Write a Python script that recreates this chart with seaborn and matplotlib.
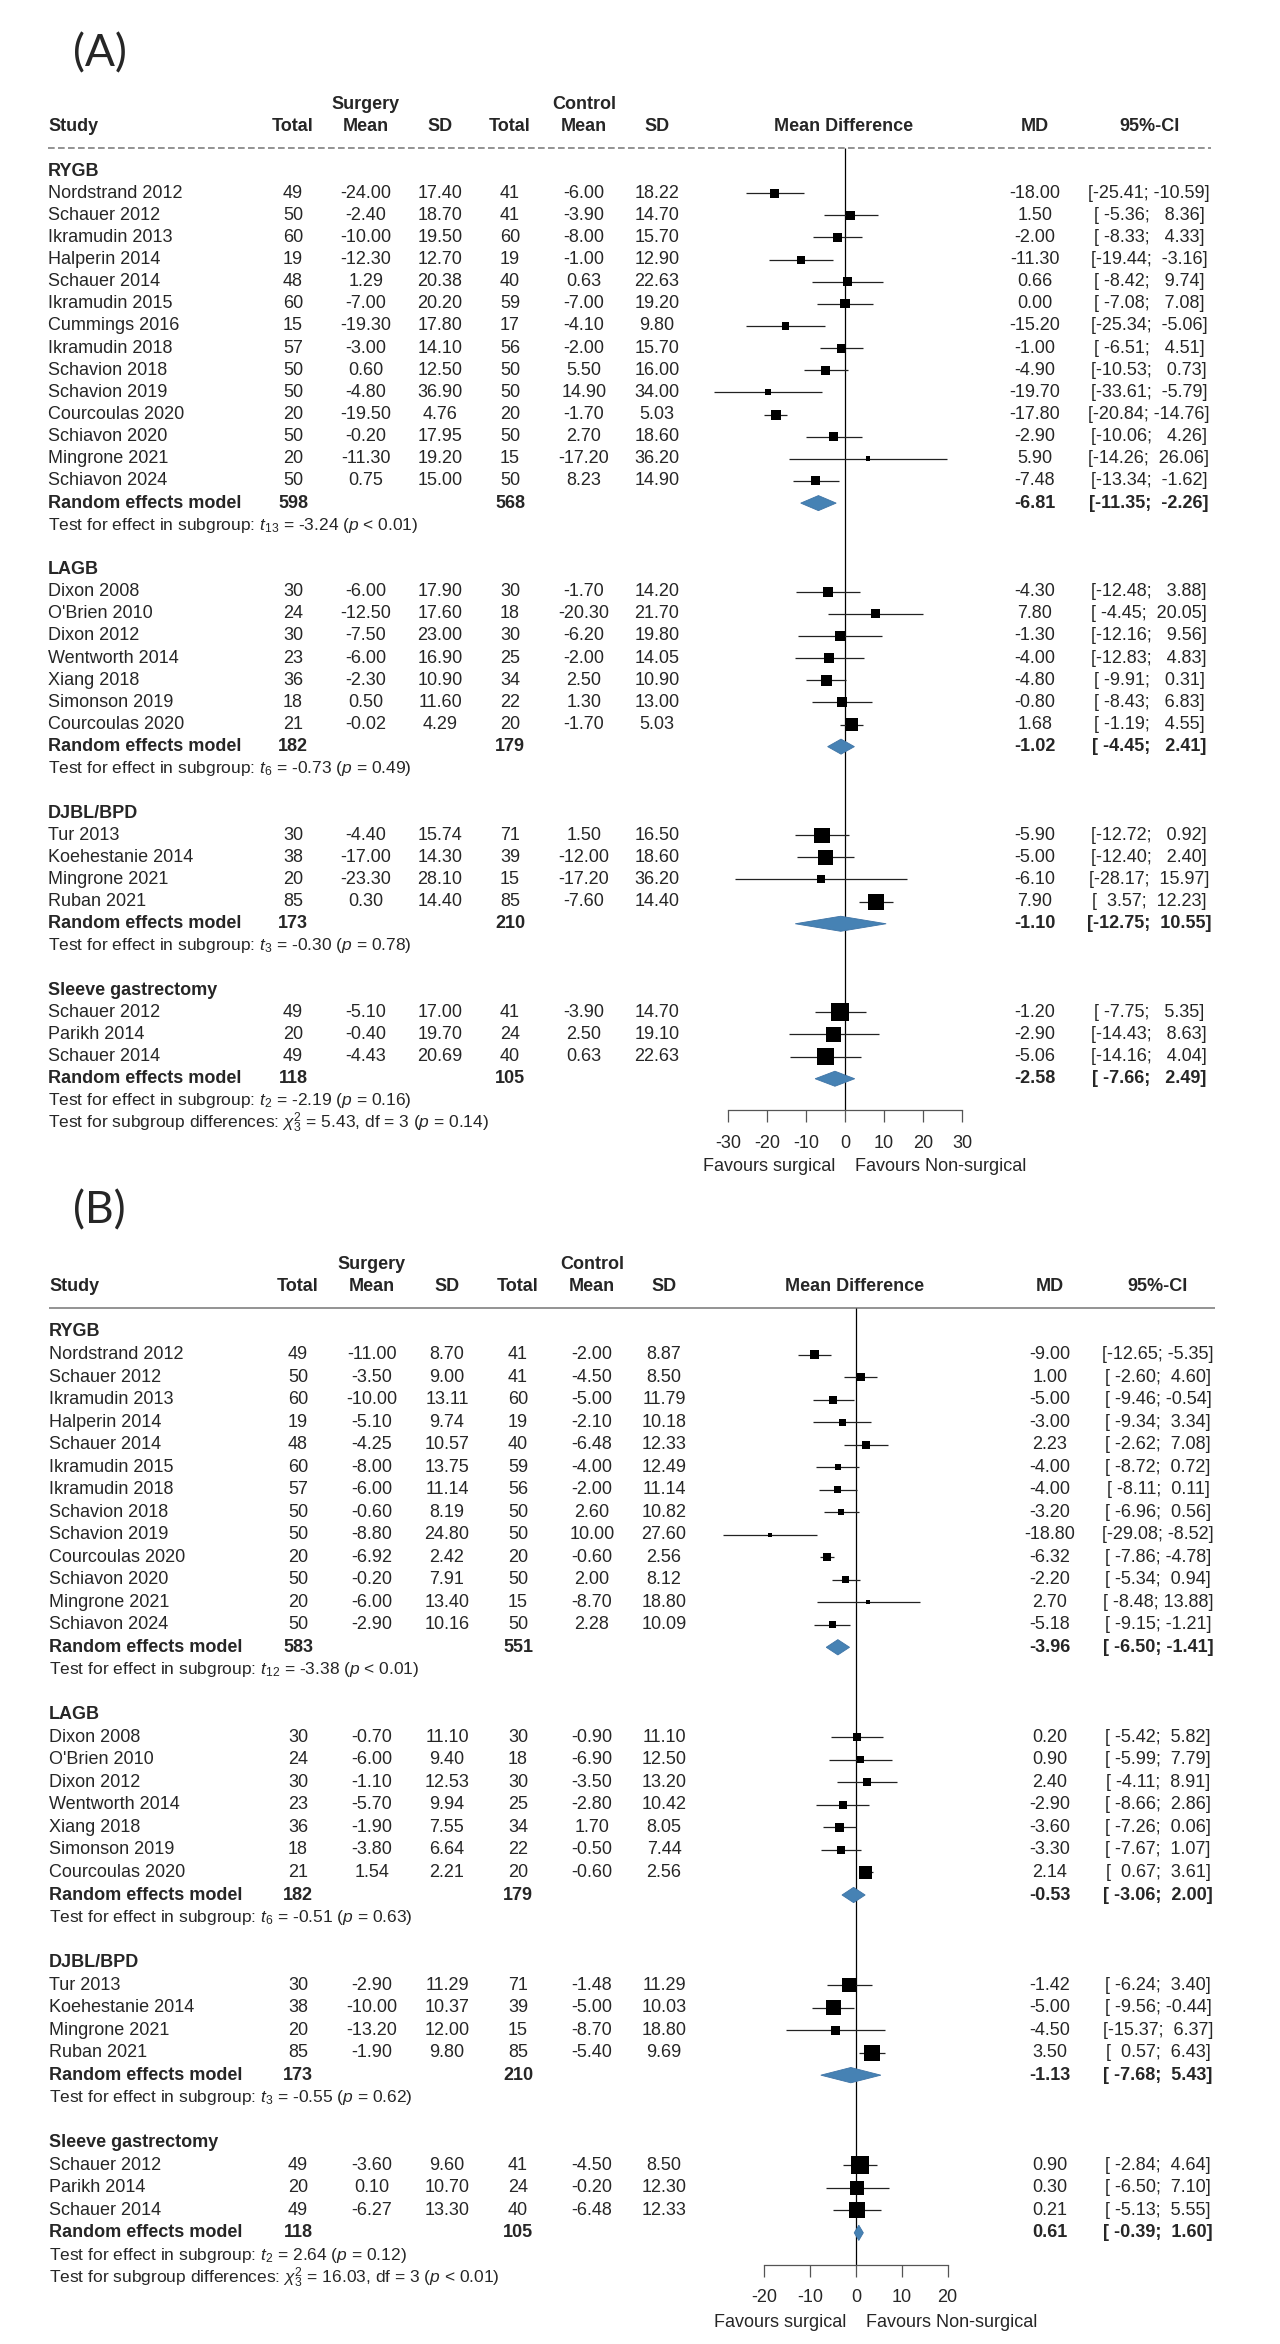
import matplotlib
matplotlib.use("Agg")
import pandas as pd
import matplotlib.pyplot as plt
import seaborn as sns

# ---------------- Panel A data ----------------
a_group = ["RYGB"] * 14 + ["LAGB"] * 7 + ["DJBL/BPD"] * 4 + ["Sleeve gastrectomy"] * 3
a_study = ["Nordstrand 2012", "Schauer 2012", "Ikramudin 2013", "Halperin 2014", "Schauer 2014",
           "Ikramudin 2015", "Cummings 2016", "Ikramudin 2018", "Schavion 2018", "Schavion 2019",
           "Courcoulas 2020", "Schiavon 2020", "Mingrone 2021", "Schiavon 2024",
           "Dixon 2008", "O'Brien 2010", "Dixon 2012", "Wentworth 2014", "Xiang 2018",
           "Simonson 2019", "Courcoulas 2020",
           "Tur 2013", "Koehestanie 2014", "Mingrone 2021", "Ruban 2021",
           "Schauer 2012", "Parikh 2014", "Schauer 2014"]
a_n1 = [49, 50, 60, 19, 48, 60, 15, 57, 50, 50, 20, 50, 20, 50,
        30, 24, 30, 23, 36, 18, 21,
        30, 38, 20, 85,
        49, 20, 49]
a_m1 = [-24.00, -2.40, -10.00, -12.30, 1.29, -7.00, -19.30, -3.00, 0.60, -4.80, -19.50, -0.20, -11.30, 0.75,
        -6.00, -12.50, -7.50, -6.00, -2.30, 0.50, -0.02,
        -4.40, -17.00, -23.30, 0.30,
        -5.10, -0.40, -4.43]
a_sd1 = [17.40, 18.70, 19.50, 12.70, 20.38, 20.20, 17.80, 14.10, 12.50, 36.90, 4.76, 17.95, 19.20, 15.00,
         17.90, 17.60, 23.00, 16.90, 10.90, 11.60, 4.29,
         15.74, 14.30, 28.10, 14.40,
         17.00, 19.70, 20.69]
a_n2 = [41, 41, 60, 19, 40, 59, 17, 56, 50, 50, 20, 50, 15, 50,
        30, 18, 30, 25, 34, 22, 20,
        71, 39, 15, 85,
        41, 24, 40]
a_m2 = [-6.00, -3.90, -8.00, -1.00, 0.63, -7.00, -4.10, -2.00, 5.50, 14.90, -1.70, 2.70, -17.20, 8.23,
        -1.70, -20.30, -6.20, -2.00, 2.50, 1.30, -1.70,
        1.50, -12.00, -17.20, -7.60,
        -3.90, 2.50, 0.63]
a_sd2 = [18.22, 14.70, 15.70, 12.90, 22.63, 19.20, 9.80, 15.70, 16.00, 34.00, 5.03, 18.60, 36.20, 14.90,
         14.20, 21.70, 19.80, 14.05, 10.90, 13.00, 5.03,
         16.50, 18.60, 36.20, 14.40,
         14.70, 19.10, 22.63]
a_md = [-18.00, 1.50, -2.00, -11.30, 0.66, 0.00, -15.20, -1.00, -4.90, -19.70, -17.80, -2.90, 5.90, -7.48,
        -4.30, 7.80, -1.30, -4.00, -4.80, -0.80, 1.68,
        -5.90, -5.00, -6.10, 7.90,
        -1.20, -2.90, -5.06]
a_lo = [-25.41, -5.36, -8.33, -19.44, -8.42, -7.08, -25.34, -6.51, -10.53, -33.61, -20.84, -10.06, -14.26, -13.34,
        -12.48, -4.45, -12.16, -12.83, -9.91, -8.43, -1.19,
        -12.72, -12.40, -28.17, 3.57,
        -7.75, -14.43, -14.16]
a_hi = [-10.59, 8.36, 4.33, -3.16, 9.74, 7.08, -5.06, 4.51, 0.73, -5.79, -14.76, 4.26, 26.06, -1.62,
        3.88, 20.05, 9.56, 4.83, 0.31, 6.83, 4.55,
        0.92, 2.40, 15.97, 12.23,
        5.35, 8.63, 4.04]
# relative weights (%), estimated from the square sizes
a_w = [2.4, 2.4, 2.4, 1.9, 2.4, 2.4, 1.5, 2.4, 2.4, 1.1, 3.0, 2.4, 0.7, 2.4,
       3.0, 2.4, 3.0, 3.0, 3.6, 3.0, 4.3,
       6.7, 6.7, 1.9, 7.6,
       9.6, 6.7, 8.6]

a_pool_group = ["RYGB", "LAGB", "DJBL/BPD", "Sleeve gastrectomy"]
a_pool_n1 = [598, 182, 173, 118]
a_pool_n2 = [568, 179, 210, 105]
a_pool_md = [-6.81, -1.02, -1.10, -2.58]
a_pool_lo = [-11.35, -4.45, -12.75, -7.66]
a_pool_hi = [-2.26, 2.41, 10.55, 2.49]
a_pool_test = [r"$t_{13}$ = -3.24 ($p$ < 0.01)", r"$t_{6}$ = -0.73 ($p$ = 0.49)",
               r"$t_{3}$ = -0.30 ($p$ = 0.78)", r"$t_{2}$ = -2.19 ($p$ = 0.16)"]
a_diff = r"Test for subgroup differences: $\chi^{2}_{3}$ = 5.43, df = 3 ($p$ = 0.14)"
a_ticks = [-30, -20, -10, 0, 10, 20, 30]

# ---------------- Panel B data ----------------
b_group = ["RYGB"] * 13 + ["LAGB"] * 7 + ["DJBL/BPD"] * 4 + ["Sleeve gastrectomy"] * 3
b_study = ["Nordstrand 2012", "Schauer 2012", "Ikramudin 2013", "Halperin 2014", "Schauer 2014",
           "Ikramudin 2015", "Ikramudin 2018", "Schavion 2018", "Schavion 2019", "Courcoulas 2020",
           "Schiavon 2020", "Mingrone 2021", "Schiavon 2024",
           "Dixon 2008", "O'Brien 2010", "Dixon 2012", "Wentworth 2014", "Xiang 2018",
           "Simonson 2019", "Courcoulas 2020",
           "Tur 2013", "Koehestanie 2014", "Mingrone 2021", "Ruban 2021",
           "Schauer 2012", "Parikh 2014", "Schauer 2014"]
b_n1 = [49, 50, 60, 19, 48, 60, 57, 50, 50, 20, 50, 20, 50,
        30, 24, 30, 23, 36, 18, 21,
        30, 38, 20, 85,
        49, 20, 49]
b_m1 = [-11.00, -3.50, -10.00, -5.10, -4.25, -8.00, -6.00, -0.60, -8.80, -6.92, -0.20, -6.00, -2.90,
        -0.70, -6.00, -1.10, -5.70, -1.90, -3.80, 1.54,
        -2.90, -10.00, -13.20, -1.90,
        -3.60, 0.10, -6.27]
b_sd1 = [8.70, 9.00, 13.11, 9.74, 10.57, 13.75, 11.14, 8.19, 24.80, 2.42, 7.91, 13.40, 10.16,
         11.10, 9.40, 12.53, 9.94, 7.55, 6.64, 2.21,
         11.29, 10.37, 12.00, 9.80,
         9.60, 10.70, 13.30]
b_n2 = [41, 41, 60, 19, 40, 59, 56, 50, 50, 20, 50, 15, 50,
        30, 18, 30, 25, 34, 22, 20,
        71, 39, 15, 85,
        41, 24, 40]
b_m2 = [-2.00, -4.50, -5.00, -2.10, -6.48, -4.00, -2.00, 2.60, 10.00, -0.60, 2.00, -8.70, 2.28,
        -0.90, -6.90, -3.50, -2.80, 1.70, -0.50, -0.60,
        -1.48, -5.00, -8.70, -5.40,
        -4.50, -0.20, -6.48]
b_sd2 = [8.87, 8.50, 11.79, 10.18, 12.33, 12.49, 11.14, 10.82, 27.60, 2.56, 8.12, 18.80, 10.09,
         11.10, 12.50, 13.20, 10.42, 8.05, 7.44, 2.56,
         11.29, 10.03, 18.80, 9.69,
         8.50, 12.30, 12.33]
b_md = [-9.00, 1.00, -5.00, -3.00, 2.23, -4.00, -4.00, -3.20, -18.80, -6.32, -2.20, 2.70, -5.18,
        0.20, 0.90, 2.40, -2.90, -3.60, -3.30, 2.14,
        -1.42, -5.00, -4.50, 3.50,
        0.90, 0.30, 0.21]
b_lo = [-12.65, -2.60, -9.46, -9.34, -2.62, -8.72, -8.11, -6.96, -29.08, -7.86, -5.34, -8.48, -9.15,
        -5.42, -5.99, -4.11, -8.66, -7.26, -7.67, 0.67,
        -6.24, -9.56, -15.37, 0.57,
        -2.84, -6.50, -5.13]
b_hi = [-5.35, 4.60, -0.54, 3.34, 7.08, 0.72, 0.11, 0.56, -8.52, -4.78, 0.94, 13.88, -1.21,
        5.82, 7.79, 8.91, 2.86, 0.06, 1.07, 3.61,
        3.40, -0.44, 6.37, 6.43,
        4.64, 7.10, 5.55]
b_w = [3.0, 2.3, 2.3, 1.8, 2.3, 1.3, 1.8, 1.3, 0.6, 2.3, 1.8, 0.6, 1.8,
       2.3, 1.8, 2.3, 2.3, 3.0, 2.3, 6.2,
       7.2, 8.3, 3.0, 9.4,
       11.9, 7.2, 9.4]

b_pool_group = ["RYGB", "LAGB", "DJBL/BPD", "Sleeve gastrectomy"]
b_pool_n1 = [583, 182, 173, 118]
b_pool_n2 = [551, 179, 210, 105]
b_pool_md = [-3.96, -0.53, -1.13, 0.61]
b_pool_lo = [-6.50, -3.06, -7.68, -0.39]
b_pool_hi = [-1.41, 2.00, 5.43, 1.60]
b_pool_test = [r"$t_{12}$ = -3.38 ($p$ < 0.01)", r"$t_{6}$ = -0.51 ($p$ = 0.63)",
               r"$t_{3}$ = -0.55 ($p$ = 0.62)", r"$t_{2}$ = 2.64 ($p$ = 0.12)"]
b_diff = r"Test for subgroup differences: $\chi^{2}_{3}$ = 16.03, df = 3 ($p$ < 0.01)"
b_ticks = [-20, -10, 0, 10, 20]

sns.set_theme(style="white")
plt.rcParams["font.family"] = ["Liberation Sans", "DejaVu Sans"]
plt.rcParams["mathtext.fontset"] = "custom"
plt.rcParams["mathtext.rm"] = "Liberation Sans"
plt.rcParams["mathtext.it"] = "Liberation Sans:italic"
plt.rcParams["mathtext.bf"] = "Liberation Sans:bold"

W, H = 1280, 2344
FS = 13
DIAMOND = "#4682B4"

fig = plt.figure(figsize=(W / 100, H / 100), dpi=100)


def f2(v):
    return f"{v:.2f}"


def draw_panel(label, studies, pooled, test_txt, diff_txt, ticks, lay):
    df = pd.DataFrame(studies)
    pool = pd.DataFrame(pooled)
    y0, step = lay["y0"], lay["step"]

    def row(px):
        return (px - y0) / step

    # row index of each line of the table
    r = 0
    study_rows, pool_rows, head_rows, test_rows = [], [], [], []
    for g in pool["group"]:
        head_rows.append(r)
        k = (df["group"] == g).sum()
        study_rows += list(range(r + 1, r + 1 + k))
        pool_rows.append(r + k + 1)
        test_rows.append(r + k + 2)
        r = r + k + 4
    df["row"] = study_rows
    pool["row"] = pool_rows
    diff_row = test_rows[-1] + 1
    axis_row = test_rows[-1] + 0.42
    line_row = -1.05

    bottom = 1 - lay["bot"] / H
    height = (lay["bot"] - lay["top"]) / H
    ylim = (row(lay["bot"]), row(lay["top"]))

    # text table axes, x in pixels
    ta = fig.add_axes([0, bottom, 1, height])
    ta.set_xlim(0, W)
    ta.set_ylim(*ylim)
    ta.axis("off")

    c = lay["cols"]
    ta.text(lay["lab_x"], row(lay["lab_y"]), label, fontsize=32, family="Lato",
            ha="left", va="center")

    bold = dict(fontsize=FS, fontweight="bold", va="center")
    ta.text(c["m1"], -3, "Surgery", ha="center", **bold)
    ta.text(c["m2"], -3, "Control", ha="center", **bold)
    ta.text(c["study"], -2, "Study", ha="left", **bold)
    for key, name in [("n1", "Total"), ("m1", "Mean"), ("sd1", "SD"), ("n2", "Total"),
                      ("m2", "Mean"), ("sd2", "SD"), ("mdh", "Mean Difference"),
                      ("md", "MD"), ("ci", "95%-CI")]:
        ta.text(c[key], -2, name, ha="center", **bold)
    ta.hlines(line_row, c["study"], c["end"], colors="#808080", lw=1.2,
              linestyles=lay["ls"])

    lo_w = max(len(f2(v)) for v in list(df["lo"]) + list(pool["lo"]))
    hi_w = max(len(f2(v)) for v in list(df["hi"]) + list(pool["hi"]))

    def ci(lo, hi):
        return f"[{f2(lo):>{lo_w}}; {f2(hi):>{hi_w}}]"

    reg = dict(fontsize=FS, va="center", ha="center")
    for g, hr in zip(pool["group"], head_rows):
        ta.text(c["study"], hr, g, ha="left", **bold)
    for _, s in df.iterrows():
        y = s["row"]
        ta.text(c["study"], y, s["study"], fontsize=FS, va="center", ha="left")
        ta.text(c["n1"], y, str(s["n1"]), **reg)
        ta.text(c["m1"], y, f2(s["m1"]), **reg)
        ta.text(c["sd1"], y, f2(s["sd1"]), **reg)
        ta.text(c["n2"], y, str(s["n2"]), **reg)
        ta.text(c["m2"], y, f2(s["m2"]), **reg)
        ta.text(c["sd2"], y, f2(s["sd2"]), **reg)
        ta.text(c["md"], y, f2(s["md"]), **reg)
        ta.text(c["ci"], y, ci(s["lo"], s["hi"]), **reg)
    for (_, p), tr, tt in zip(pool.iterrows(), test_rows, test_txt):
        y = p["row"]
        ta.text(c["study"], y, "Random effects model", ha="left", **bold)
        ta.text(c["n1"], y, str(p["n1"]), ha="center", **bold)
        ta.text(c["n2"], y, str(p["n2"]), ha="center", **bold)
        ta.text(c["md"], y, f2(p["md"]), ha="center", **bold)
        ta.text(c["ci"], y, ci(p["lo"], p["hi"]), ha="center", **bold)
        ta.text(c["study"], tr, "Test for effect in subgroup: " + tt,
                fontsize=FS - 0.5, va="center", ha="left")
    ta.text(c["study"], diff_row, diff_txt, fontsize=FS - 0.5, va="center", ha="left")

    # forest axes, x in mean-difference units
    xmin, xmax = lay["xlim"]
    left = (lay["zero"] + xmin * lay["ppu"]) / W
    width = (xmax - xmin) * lay["ppu"] / W
    fa = fig.add_axes([left, bottom, width, height])
    fa.patch.set_alpha(0)

    fa.vlines(0, line_row, axis_row, colors="black", lw=0.9, zorder=1)
    fa.hlines(df["row"], df["lo"], df["hi"], colors="#222222", lw=0.9, zorder=2)
    sns.scatterplot(data=df, x="md", y="row", size="w", sizes=(0, 168),
                    size_norm=(0, df["w"].max()), marker="s", color="black",
                    linewidth=0, legend=False, ax=fa, zorder=3)
    h = 0.34
    for _, p in pool.iterrows():
        y = p["row"]
        fa.fill([p["lo"], p["md"], p["hi"], p["md"]], [y, y - h, y, y + h],
                color=DIAMOND, lw=0.6, ec="#3f74a6", zorder=3)

    fa.set_xlim(xmin, xmax)
    fa.set_ylim(*ylim)
    fa.set_xlabel("")
    fa.set_ylabel("")
    fa.set_yticks([])
    for side in ["left", "right", "top"]:
        fa.spines[side].set_visible(False)
    fa.spines["bottom"].set_position(("data", axis_row))
    fa.spines["bottom"].set_bounds(ticks[0], ticks[-1])
    fa.spines["bottom"].set_color("#555555")
    fa.spines["bottom"].set_linewidth(0.9)
    fa.set_xticks(ticks)
    fa.set_xticklabels([str(t) for t in ticks])
    fa.tick_params(axis="x", direction="out", length=8.6, width=0.9, color="#555555",
                   labelsize=FS, pad=9, bottom=True)

    fav_row = axis_row + 2.55
    fa.annotate("Favours surgical", xy=(0, fav_row), xytext=(-7, 0),
                textcoords="offset points", ha="right", va="center", fontsize=FS)
    fa.annotate("Favours Non-surgical", xy=(0, fav_row), xytext=(7, 0),
                textcoords="offset points", ha="left", va="center", fontsize=FS)


draw_panel("(A)",
           dict(group=a_group, study=a_study, n1=a_n1, m1=a_m1, sd1=a_sd1, n2=a_n2, m2=a_m2,
                sd2=a_sd2, md=a_md, lo=a_lo, hi=a_hi, w=a_w),
           dict(group=a_pool_group, n1=a_pool_n1, n2=a_pool_n2, md=a_pool_md, lo=a_pool_lo,
                hi=a_pool_hi),
           a_pool_test, a_diff, a_ticks,
           dict(top=0, bot=1180, y0=171, step=22.14, zero=845, ppu=3.9, xlim=(-40, 40),
                lab_x=73, lab_y=54, ls=(0, (4, 2)),
                cols=dict(study=48, n1=293, m1=366, sd1=440, n2=510, m2=584, sd2=657,
                          mdh=844, md=1035, ci=1149, end=1211)))

draw_panel("(B)",
           dict(group=b_group, study=b_study, n1=b_n1, m1=b_m1, sd1=b_sd1, n2=b_n2, m2=b_m2,
                sd2=b_sd2, md=b_md, lo=b_lo, hi=b_hi, w=b_w),
           dict(group=b_pool_group, n1=b_pool_n1, n2=b_pool_n2, md=b_pool_md, lo=b_pool_lo,
                hi=b_pool_hi),
           b_pool_test, b_diff, b_ticks,
           dict(top=1180, bot=H, y0=1332, step=22.52, zero=856, ppu=4.58, xlim=(-34, 34),
                lab_x=73, lab_y=1211, ls="solid",
                cols=dict(study=49, n1=298, m1=372, sd1=447, n2=518, m2=592, sd2=664,
                          mdh=855, md=1050, ci=1158, end=1215)))

fig.savefig("out.png", dpi=100, facecolor="white")
